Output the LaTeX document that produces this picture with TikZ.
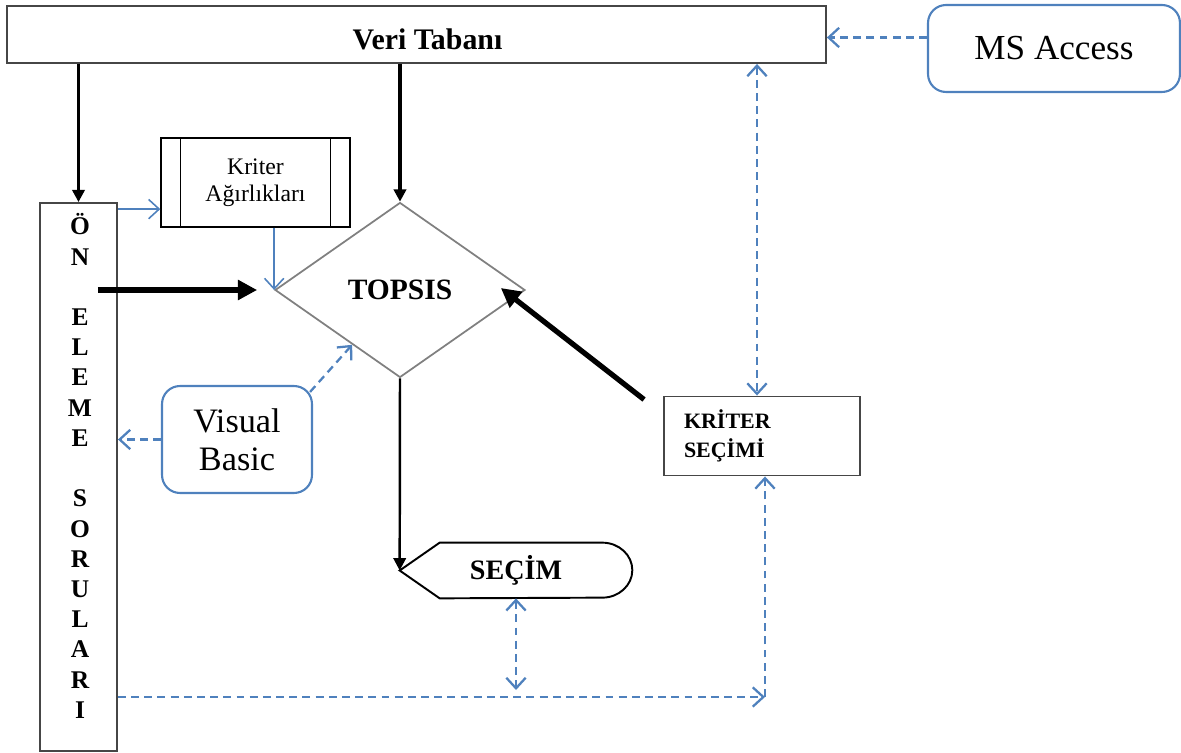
\documentclass[tikz,border=0pt]{standalone}
\usepackage{fontspec}
\setmainfont{Liberation Serif}
\usetikzlibrary{arrows.meta,calc,shapes.geometric}
\definecolor{lnblue}{RGB}{79,129,189}
\definecolor{boxgray}{RGB}{70,70,70}

\tikzset{
  box/.style={draw=boxgray,line width=1.1pt,inner sep=0pt},
  soft/.style={draw=lnblue,line width=1.2pt,rounded corners=0.36cm,inner sep=0pt,align=center},
  blkarrow/.style={line width=1.8pt,-{Triangle[length=7pt,width=7pt]}},
  fatarrow/.style={line width=3pt,-{Triangle[length=11pt,width=11pt]}},
  bluearrow/.style={lnblue,line width=0.9pt,>={Straight Barb[length=6pt,width=11pt]},->},
  dasharrow/.style={lnblue,line width=1.3pt,dash pattern=on 4.5pt off 3pt,>={Straight Barb[length=6pt,width=11pt]},->},
}

\begin{document}
\begin{tikzpicture}[x=0.02cm,y=-0.02cm]
    \useasboundingbox (0,0) rectangle (1181,753);
    % kutular
    \node[box,minimum width=16.38cm,minimum height=1.14cm,font=\fontsize{17}{20}\selectfont\bfseries] (vt) at (416.5,34.5) {\hspace{0.44cm}\raisebox{-0.3cm}[0pt][0pt]{Veri Tabanı}};
    \node[soft,minimum width=5.04cm,minimum height=1.74cm,font=\fontsize{20}{24}\selectfont] (ms) at (1054,48.5) {MS Access};
    \node[box,minimum width=1.54cm,minimum height=10.96cm] (bar) at (78.5,477) {};
    \node[inner sep=0pt,align=center,font=\fontsize{14.5}{17.2}\selectfont\bfseries] (barlbl) at (80,466)
      {Ö\\N\\[17.2pt]E\\L\\E\\M\\E\\[17.2pt]S\\O\\R\\U\\L\\A\\R\\I};
    \node[draw,line width=0.8pt,minimum width=3.78cm,minimum height=1.78cm,inner sep=0pt,align=center,font=\fontsize{13.5}{15.3}\selectfont] (ka) at (255.5,182.5) {Kriter\\Ağırlıkları};
    \draw[line width=0.8pt] ($(ka.north west)+(20,0)$) -- ($(ka.south west)+(20,0)$);
    \draw[line width=0.8pt] ($(ka.north east)+(-20,0)$) -- ($(ka.south east)+(-20,0)$);
    \node[diamond,draw=gray,line width=1pt,minimum width=5cm,minimum height=3.5cm,aspect=1.43,inner sep=0pt,font=\fontsize{16.8}{20}\selectfont\bfseries] (tp) at (400,290) {TOPSIS};
    \node[soft,minimum width=3cm,minimum height=2.14cm,font=\fontsize{19.5}{21.5}\selectfont] (vb) at (237,439.5) {Visual\\Basic};
    \node[box,minimum width=3.92cm,minimum height=1.58cm,text width=3.12cm,inner xsep=0.4cm,align=left,font=\fontsize{12.5}{16.4}\selectfont\bfseries] (ks) at (762,436) {KRİTER\\SEÇİMİ};
    % secim (display sekli)
    \node[minimum width=4.64cm,minimum height=1.1cm,inner sep=0pt,font=\fontsize{16}{19}\selectfont\bfseries] (sc) at (516,570.5) {SEÇİM};
    \draw[line width=1.1pt] (sc.west) -- ($(sc.north west)+(40,0)$) -- ($(sc.north east)+(-30,0)$)
      arc[start angle=90,end angle=-90,x radius=0.6cm,y radius=0.55cm] -- ($(sc.south west)+(40,0)$) -- cycle;
    \coordinate (scend) at (516,690);
    \coordinate (turn) at (765,697);
    \coordinate (ksup) at ($(ks.north)+(-5,0)$);
    \coordinate (kain) at ($(bar.north east)+(0,7)$);
    % baglantilar
    \draw[blkarrow] (bar.north |- vt.south) -- (bar.north);
    \draw[blkarrow] (tp.north |- vt.south) -- (tp.north);
    \draw[dasharrow] ($(ms.west)+(0,-11)$) -- ($(vt.east)+(0,3)$);
    \draw[bluearrow] (kain) -- (kain -| ka.west);
    \draw[bluearrow] (tp.west |- ka.south) -- (tp.west);
    \draw[fatarrow] (bar.east |- tp.west) ++(-20,0) -- ($(tp.west)+(-17,0)$);
    \draw[dasharrow] (vb.west) -- (vb.west -| bar.east);
    \draw[dasharrow] ($(vb.north east)+(-3,7)$) -- ($(tp.west)!0.62!(tp.south)$);
    \draw[fatarrow] ($(ks.north west)+(-19,4)$) -- ($(tp.east)+(-25,-2)$);
    \draw[dasharrow,<->] (ksup |- vt.south) -- (ksup);
    \draw[blkarrow,line width=1.4pt] (tp.south) -- (sc.west);
    \draw[dasharrow,<->] (sc.south) -- (scend);
    \draw[dasharrow] (bar.east |- turn) -- (turn);
    \draw[dasharrow] (turn) -- (turn |- ks.south);
\end{tikzpicture}
\end{document}
